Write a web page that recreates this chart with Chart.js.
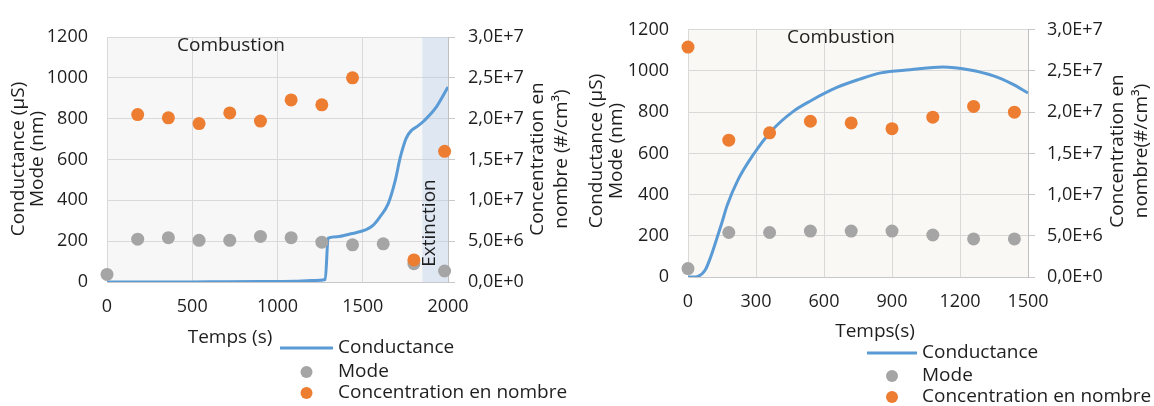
<!DOCTYPE html>
<html lang="fr">
<head>
<meta charset="UTF-8">
<title>Conductance, mode et concentration en nombre</title>
<script src="https://cdn.jsdelivr.net/npm/chart.js"></script>
<style>
  body { margin: 0; background: #fff; }
  .wrap { position: absolute; top: 0; width: 577px; height: 406px; }
</style>
</head>
<body>
<div class="wrap" style="left:0"><canvas id="chartA" width="577" height="406"></canvas></div>
<div class="wrap" style="left:577px"><canvas id="chartB" width="577" height="406"></canvas></div>

<script>
  // ---- left chart (combustion + extinction) ----
  const timesA = [0, 180, 360, 540, 720, 900, 1080, 1260, 1440, 1620, 1800, 1980];
  const modeA = [37, 210, 217, 204, 204, 223, 217, 195, 182, 187, 90, 54];
  const concA = [null, 2.05e7, 2.01e7, 1.94e7, 2.07e7, 1.97e7, 2.23e7, 2.17e7, 2.5e7, null, 2.7e6, 1.6e7];
  const condTimesA = [0, 300, 600, 900, 1100, 1200, 1280, 1297, 1350, 1430, 1520, 1560, 1600, 1650, 1690, 1720, 1755, 1785, 1820, 1860, 1930, 2000];
  const condA = [0, 0, 1, 2, 4, 7, 12, 215, 222, 236, 256, 277, 318, 385, 495, 610, 705, 742, 762, 790, 855, 955];
  const extinctionA = [1850, 2000];

  // ---- right chart (combustion only) ----
  const timesB = [0, 180, 360, 540, 720, 900, 1080, 1260, 1440];
  const modeB = [41, 216, 216, 223, 223, 223, 204, 185, 185];
  const concB = [2.79e7, 1.66e7, 1.75e7, 1.89e7, 1.87e7, 1.8e7, 1.94e7, 2.07e7, 2.0e7];
  const condTimesB = [0, 20, 44, 76, 100, 124, 149, 173, 221, 286, 367, 463, 544, 657, 754, 851, 980, 1125, 1238, 1351, 1432, 1500];
  const condB = [0, 0, 3, 34, 97, 176, 262, 348, 473, 591, 708, 803, 857, 920, 959, 991, 1006, 1019, 1006, 975, 936, 893];

  const seriesNames = ['Conductance', 'Mode', 'Concentration en nombre'];
  const BLUE = '#5b9bd5', GREY = '#a5a5a5', ORANGE = '#ed7d31';
  const FONT = '"Open Sans", "Noto Sans", sans-serif';
  const TEXT = '#1e1e1e';

  Chart.defaults.font.family = FONT;
  Chart.defaults.font.size = 18;
  Chart.defaults.color = TEXT;

  function pts(xs, ys) {
    return xs.map((x, i) => ({ x: x, y: ys[i] })).filter(p => p.y !== null);
  }

  function sci(v) {
    if (v === 0) return '0,0E+0';
    const e = Math.floor(Math.log10(v) + 1e-9);
    const m = v / Math.pow(10, e);
    return m.toFixed(1).replace('.', ',') + 'E+' + e;
  }

  // backgrounds, shading, titles, notes and the stacked legend
  const deco = {
    id: 'deco',
    beforeDraw(chart, args, o) {
      const a = chart.chartArea, ctx = chart.ctx;
      ctx.save();
      ctx.fillStyle = o.plotBg;
      ctx.fillRect(a.left, a.top, a.right - a.left, a.bottom - a.top);
      ctx.restore();
    },
    beforeDatasetsDraw(chart, args, o) {
      if (!o.shade) return;
      const a = chart.chartArea, ctx = chart.ctx, x = chart.scales.x;
      const x0 = x.getPixelForValue(o.shade[0]), x1 = x.getPixelForValue(o.shade[1]);
      ctx.save();
      ctx.fillStyle = 'rgba(184,204,236,0.38)';
      ctx.fillRect(x0, a.top, x1 - x0, a.bottom - a.top);
      ctx.restore();
    },
    afterDraw(chart, args, o) {
      const ctx = chart.ctx;
      ctx.save();
      ctx.fillStyle = TEXT;
      ctx.font = '19px ' + FONT;
      ctx.textBaseline = 'middle';

      const vText = (s, x, y) => {
        ctx.save();
        ctx.translate(x, y);
        ctx.rotate(-Math.PI / 2);
        ctx.textAlign = 'center';
        ctx.fillText(s, 0, 0);
        ctx.restore();
      };
      o.leftTitle.forEach(t => vText(t.text, t.x, o.titleY));
      o.rightTitle.forEach(t => vText(t.text, t.x, o.titleY));

      ctx.textAlign = 'center';
      ctx.fillText(o.xTitle.text, o.xTitle.x, o.xTitle.y);
      ctx.fillText('Combustion', o.note.x, o.note.y);
      if (o.ext) vText('Extinction', o.ext.x, o.ext.y);

      // legend
      const L = o.legend;
      const colors = [BLUE, GREY, ORANGE];
      ctx.textAlign = 'left';
      seriesNames.forEach((name, i) => {
        const y = L.y[i];
        if (i === 0) {
          ctx.strokeStyle = colors[i];
          ctx.lineWidth = 3;
          ctx.beginPath();
          ctx.moveTo(L.x0, y);
          ctx.lineTo(L.x1, y);
          ctx.stroke();
        } else {
          ctx.fillStyle = colors[i];
          ctx.beginPath();
          ctx.arc((L.x0 + L.x1) / 2, y, 6, 0, Math.PI * 2);
          ctx.fill();
        }
        ctx.fillStyle = TEXT;
        ctx.fillText(name, L.tx, y);
      });
      ctx.restore();
    }
  };

  function makeChart(id, cfg) {
    return new Chart(document.getElementById(id), {
      type: 'scatter',
      data: {
        datasets: [
          {
            label: seriesNames[0],
            data: pts(cfg.condTimes, cfg.cond),
            showLine: true,
            borderColor: BLUE,
            borderWidth: 3,
            pointRadius: 0,
            cubicInterpolationMode: 'monotone',
            yAxisID: 'y',
            order: 3
          },
          {
            label: seriesNames[1],
            data: pts(cfg.times, cfg.mode),
            backgroundColor: GREY,
            borderWidth: 0,
            pointRadius: 6.5,
            clip: false,
            yAxisID: 'y',
            order: 2
          },
          {
            label: seriesNames[2],
            data: pts(cfg.times, cfg.conc),
            backgroundColor: ORANGE,
            borderWidth: 0,
            pointRadius: 6.5,
            clip: false,
            yAxisID: 'y2',
            order: 1
          }
        ]
      },
      options: {
        responsive: false,
        animation: false,
        events: [],
        layout: { padding: { top: cfg.top, left: 0, right: 0, bottom: 0 } },
        plugins: {
          legend: { display: false },
          tooltip: { enabled: false },
          deco: cfg.deco
        },
        scales: {
          x: {
            type: 'linear',
            min: 0,
            max: cfg.xMax,
            ticks: { stepSize: cfg.xStep, autoSkip: false, maxRotation: 0, padding: 14, callback: v => String(v) },
            grid: { color: '#d9d9d9', drawTicks: false },
            border: { color: '#c8c8c8' },
            afterFit: s => { s.height = cfg.xHeight; }
          },
          y: {
            position: 'left',
            min: 0,
            max: 1200,
            ticks: { stepSize: 200, padding: 19, callback: v => String(v) },
            grid: { color: '#d9d9d9', drawTicks: false },
            border: { color: '#d9d9d9' },
            afterFit: s => { s.width = cfg.leftW; }
          },
          y2: {
            position: 'right',
            min: 0,
            max: 3e7,
            ticks: { stepSize: 5e6, padding: cfg.rightPad, callback: v => sci(v) },
            grid: { drawOnChartArea: false, drawTicks: true, tickLength: 7, color: '#c8c8c8' },
            border: { color: '#bfbfbf' },
            afterFit: s => { s.width = cfg.rightW; }
          }
        }
      },
      plugins: [deco]
    });
  }

  makeChart('chartA', {
    times: timesA, mode: modeA, conc: concA, condTimes: condTimesA, cond: condA,
    xMax: 2000, xStep: 500, top: 37, xHeight: 124, leftW: 107, rightW: 129, rightPad: 13,
    deco: {
      plotBg: '#f7f7f7',
      shade: extinctionA,
      titleY: 159,
      leftTitle: [{ text: 'Conductance (µS)', x: 19 }, { text: 'Mode (nm)', x: 38 }],
      rightTitle: [{ text: 'Concentration en', x: 538 }, { text: 'nombre (#/cm³)', x: 562 }],
      xTitle: { text: 'Temps (s)', x: 230, y: 338 },
      note: { x: 231, y: 46 },
      ext: { x: 430, y: 223 },
      legend: { x0: 280, x1: 333, tx: 338, y: [348, 372, 393] }
    }
  });

  makeChart('chartB', {
    times: timesB, mode: modeB, conc: concB, condTimes: condTimesB, cond: condB,
    xMax: 1500, xStep: 300, top: 22, xHeight: 129, leftW: 111, rightW: 126, rightPad: 12,
    deco: {
      plotBg: '#f9f8f4',
      shade: null,
      titleY: 151,
      leftTitle: [{ text: 'Conductance (µS)', x: 20 }, { text: 'Mode (nm)', x: 40 }],
      rightTitle: [{ text: 'Concentration en', x: 541 }, { text: 'nombre(#/cm³)', x: 565 }],
      xTitle: { text: 'Temps(s)', x: 298, y: 332 },
      note: { x: 264, y: 38 },
      ext: null,
      legend: { x0: 290, x1: 340, tx: 345, y: [353, 376, 397] }
    }
  });
</script>
</body>
</html>
